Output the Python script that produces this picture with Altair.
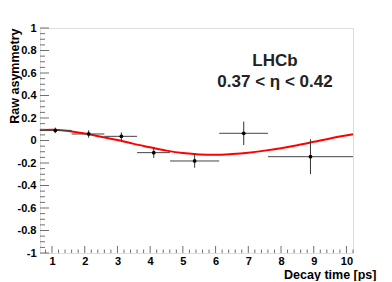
import altair as alt
import numpy as np
import pandas as pd

# ---- data ----
t_pts = [1.1, 2.12, 3.12, 4.11, 5.36, 6.86, 8.9]
a_pts = [0.09, 0.058, 0.037, -0.108, -0.182, 0.064, -0.144]
a_err = [0.025, 0.033, 0.035, 0.047, 0.06, 0.104, 0.155]
t_lo = [0.63, 1.6, 2.6, 3.6, 4.61, 6.11, 7.6]
t_hi = [1.6, 2.6, 3.6, 4.61, 6.11, 7.6, 10.2]

t_curve = [0.63, 1.0, 1.5, 2.0, 2.5, 3.0, 3.5, 4.0, 4.5, 5.0, 5.5, 6.0, 6.5,
           7.0, 7.5, 8.0, 8.5, 9.0, 9.5, 10.2]
a_curve = [0.093, 0.096, 0.085, 0.062, 0.033, 0.005, -0.03, -0.06, -0.09,
           -0.112, -0.124, -0.127, -0.12, -0.108, -0.09, -0.068, -0.042,
           -0.012, 0.018, 0.055]

x_major = [1, 2, 3, 4, 5, 6, 7, 8, 9, 10]
y_major = [-1, -0.8, -0.6, -0.4, -0.2, 0, 0.2, 0.4, 0.6, 0.8, 1]

XMIN, XMAX = 0.633, 10.2
W, H = 313, 225
FONT = "Liberation Sans"

x_minor = [round(v, 2) for v in np.arange(0.8, 10.21, 0.2) if abs(v - round(v)) > 1e-6]
y_minor = [round(v, 2) for v in np.arange(-0.95, 1.0, 0.05) if abs(v * 5 - round(v * 5)) > 1e-6]

pts = pd.DataFrame({"t": t_pts, "a": a_pts,
                    "lo": [a - e for a, e in zip(a_pts, a_err)],
                    "hi": [a + e for a, e in zip(a_pts, a_err)],
                    "tlo": t_lo, "thi": t_hi})
curve = pd.DataFrame({"t": t_curve, "a": a_curve})

xs = alt.Scale(domain=[XMIN, XMAX], nice=False, zero=False)
ys = alt.Scale(domain=[-1, 1], nice=False, zero=False)

xaxis = alt.Axis(values=x_major, title="Decay time [ps]", ticks=False, domain=False,
                 grid=False, labelFont=FONT, labelFontSize=11, labelFontWeight="bold",
                 labelColor="black", labelPadding=2, titleFont=FONT, titleFontSize=12.5,
                 titleFontWeight="bold", titleColor="black", titleAlign="right",
                 titleX=336, titleY=25, titleBaseline="alphabetic")
yaxis = alt.Axis(values=y_major, title="Raw asymmetry", ticks=False, domain=False,
                 grid=False, labelFont=FONT, labelFontSize=11, labelFontWeight="bold",
                 labelColor="black", labelPadding=4,
                 labelExpr="replace(format(datum.value, '~g'), '\u2212', '-')",
                 titleFont=FONT, titleFontSize=12.5, titleFontWeight="bold",
                 titleColor="black", titleAngle=-90, titleAlign="right",
                 titleX=-22, titleY=0, titleBaseline="alphabetic")


def X(f):
    return alt.X(f, scale=xs, axis=xaxis)


def Y(f):
    return alt.Y(f, scale=ys, axis=yaxis)


tick_col = "#707070"
xmaj = alt.Chart(pd.DataFrame({"t": x_major})).mark_rule(color=tick_col).encode(
    x=X("t:Q"), y=alt.value(H), y2=alt.value(H - 7))
xmin = alt.Chart(pd.DataFrame({"t": x_minor})).mark_rule(color=tick_col).encode(
    x=X("t:Q"), y=alt.value(H), y2=alt.value(H - 3.5))
ymaj = alt.Chart(pd.DataFrame({"a": y_major})).mark_rule(color=tick_col).encode(
    y=Y("a:Q"), x=alt.value(0), x2=alt.value(9))
ymin = alt.Chart(pd.DataFrame({"a": y_minor})).mark_rule(color=tick_col).encode(
    y=Y("a:Q"), x=alt.value(0), x2=alt.value(5))

line = alt.Chart(curve).mark_line(color="#ff0000", strokeWidth=2,
                                  interpolate="monotone").encode(x=X("t:Q"), y=Y("a:Q"))

hbar = alt.Chart(pts).mark_rule(color="#444444", strokeWidth=1).encode(
    x=X("tlo:Q"), x2="thi:Q", y=Y("a:Q"))
vbar = alt.Chart(pts).mark_rule(color="#333333", strokeWidth=1).encode(
    x=X("t:Q"), y=Y("lo:Q"), y2="hi:Q")
dots = alt.Chart(pts).mark_circle(color="black", size=14, opacity=1).encode(
    x=X("t:Q"), y=Y("a:Q"))

labels = pd.DataFrame({"txt": ["LHCb", "0.37 < \u03b7 < 0.42"],
                       "px": [235, 235], "py": [38, 59]})
txt = alt.Chart(labels).mark_text(font=FONT, fontSize=17, fontWeight="bold",
                                  color="#222222", align="center",
                                  baseline="alphabetic").encode(
    text="txt:N", x=alt.X("px:Q", scale=None), y=alt.Y("py:Q", scale=None))

chart = alt.layer(line, xmaj, xmin, ymaj, ymin, hbar, vbar, dots, txt).properties(
    width=W, height=H,
    autosize=alt.AutoSizeParams(type="none"),
    padding={"left": 32, "top": 20, "right": 31, "bottom": 28},
).configure_view(stroke="#888888", strokeWidth=1.5).configure(background="white")

chart.save("out.html", embed_options={"renderer": "svg", "actions": False})
